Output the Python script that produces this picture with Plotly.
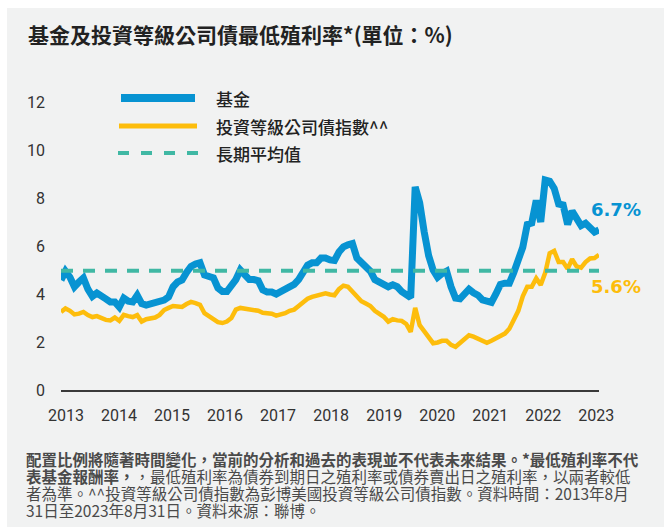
import plotly.graph_objects as go
import numpy as np

# ---------------- data ----------------
fund = [4.58, 4.95, 4.70, 4.30, 4.50, 4.67, 4.20, 3.90, 4.04, 3.95,
        3.80, 3.67, 3.67, 3.46, 3.83, 3.70, 3.67, 3.95, 3.60, 3.54,
        3.60, 3.67, 3.67, 3.75, 3.88, 4.30, 4.50, 4.58, 4.90, 5.15,
        5.25, 5.30, 4.79, 4.70, 4.67, 4.25, 4.10, 4.10, 4.30, 4.60,
        5.00, 4.79, 4.60, 4.60, 4.55, 4.17, 4.08, 4.08, 4.00, 4.10,
        4.20, 4.30, 4.40, 4.60, 4.88, 5.20, 5.30, 5.30, 5.50, 5.50,
        5.42, 5.40, 5.75, 5.96, 6.05, 6.10, 5.50, 5.30, 5.15, 4.95,
        4.60, 4.48, 4.35, 4.30, 4.38, 4.30, 4.10, 3.95, 3.85, 8.46,
        7.80, 6.60, 5.60, 5.00, 4.70, 4.85, 4.95, 4.30, 3.83, 3.80,
        4.00, 4.20, 4.05, 3.95, 3.75, 3.67, 3.65, 4.00, 4.40, 4.45,
        4.45, 4.90, 5.50, 5.95, 6.90, 6.96, 7.90, 7.00, 8.75, 8.70,
        8.40, 7.75, 7.71, 6.90, 7.45, 7.10, 6.85, 6.95, 6.75, 6.58,
        6.67]
ig_index = [3.25, 3.40, 3.30, 3.15, 3.18, 3.25, 3.12, 3.04, 3.08, 3.00,
            2.92, 2.90, 3.02, 2.88, 3.13, 3.08, 3.04, 3.12, 2.85, 2.95,
            3.00, 3.02, 3.13, 3.33, 3.42, 3.50, 3.48, 3.46, 3.58, 3.67,
            3.62, 3.55, 3.20, 3.08, 3.00, 2.83, 2.79, 2.85, 3.00, 3.35,
            3.42, 3.40, 3.38, 3.35, 3.30, 3.22, 3.20, 3.18, 3.10, 3.15,
            3.20, 3.30, 3.35, 3.50, 3.67, 3.80, 3.88, 3.92, 3.98, 4.03,
            3.98, 3.95, 4.20, 4.35, 4.30, 4.10, 3.90, 3.70, 3.60, 3.50,
            3.30, 3.20, 3.05, 2.85, 2.95, 2.90, 2.88, 2.75, 2.42, 3.42,
            2.70, 2.45, 2.22, 1.95, 1.98, 2.05, 2.05, 1.88, 1.80, 1.95,
            2.10, 2.28, 2.22, 2.15, 2.05, 1.97, 2.05, 2.15, 2.25, 2.35,
            2.55, 2.95, 3.30, 3.90, 4.30, 4.30, 4.65, 4.38, 4.88, 5.70,
            5.80, 5.33, 5.33, 5.05, 5.45, 5.15, 5.10, 5.33, 5.48, 5.50,
            5.63]
long_avg = 4.97
year_labels = ["2013", "2014", "2015", "2016", "2017", "2018",
               "2019", "2020", "2021", "2022", "2023"]
y_ticks = [0, 2, 4, 6, 8, 10, 12]
series_names = ["基金", "投資等級公司債指數^^", "長期平均值"]
end_labels = ["6.7%", "5.6%"]

title_text = "基金及投資等級公司債最低殖利率*(單位：%)"
foot_lines = [
    "<b>配置比例將隨著時間變化，當前的分析和過去的表現並不代表未來結果。*最低殖利率不代</b>",
    "<b>表基金報酬率，</b>，最低殖利率為債券到期日之殖利率或債券賣出日之殖利率，以兩者較低",
    "者為準。^^投資等級公司債指數為彭博美國投資等級公司債指數。資料時間：2013年8月",
    "31日至2023年8月31日。資料來源：聯博。",
]

# ---------------- styles ----------------
BLUE = "#0793d2"
YELLOW = "#fdbd0c"
TEAL = "#40b8a4"
BG = "#f1f2f2"
CJK = "Noto Sans CJK TC"
NUM = "Roboto"

W, H = 664, 527
L, R, T, B = 61, 65, 78, 137
pw, ph = W - L - R, H - T - B


def px(x):
    return (x - L) / pw


def py(y):
    return 1 - (y - T) / ph


months = list(range(len(fund)))
n = len(fund) - 1

fig = go.Figure()
fig.add_trace(go.Scatter(x=months, y=ig_index, mode="lines",
                         line=dict(color=YELLOW, width=4.5),
                         name=series_names[1], showlegend=False, hoverinfo="skip"))
fig.add_trace(go.Scatter(x=months, y=fund, mode="lines",
                         line=dict(color=BLUE, width=7),
                         name=series_names[0], showlegend=False, hoverinfo="skip"))
fig.add_trace(go.Scatter(x=[months[0], months[-1]], y=[long_avg, long_avg], mode="lines",
                         line=dict(color=TEAL, width=4, dash="12px,10px"),
                         name=series_names[2], showlegend=False, hoverinfo="skip"))

shapes = []
# grey panel
shapes.append(dict(type="rect", xref="paper", yref="paper",
                   x0=px(7), x1=px(W + 2), y0=py(8), y1=py(H + 2),
                   fillcolor=BG, line=dict(width=0), layer="below"))
# legend samples
leg_y = [98, 126, 153]
shapes.append(dict(type="line", xref="paper", yref="paper",
                   x0=px(121), x1=px(195), y0=py(leg_y[0]), y1=py(leg_y[0]),
                   line=dict(color=BLUE, width=8)))
shapes.append(dict(type="line", xref="paper", yref="paper",
                   x0=px(119), x1=px(197), y0=py(leg_y[1]), y1=py(leg_y[1]),
                   line=dict(color=YELLOW, width=5)))
shapes.append(dict(type="line", xref="paper", yref="paper",
                   x0=px(118), x1=px(199), y0=py(leg_y[2]), y1=py(leg_y[2]),
                   line=dict(color=TEAL, width=4, dash="11px,12px")))

annotations = []
for name, yy in zip(series_names, leg_y):
    annotations.append(dict(text=name, xref="paper", yref="paper",
                            x=px(214), y=py(yy), xanchor="left", yanchor="middle",
                            showarrow=False,
                            font=dict(family=CJK, size=17, color="#222", weight=500)))

# end labels
annotations.append(dict(text=end_labels[0], x=months[-1], y=fund[-1],
                        xanchor="left", yanchor="middle", xshift=-10, yshift=20,
                        showarrow=False,
                        font=dict(family="DejaVu Sans", size=18, color=BLUE, weight="bold")))
annotations.append(dict(text=end_labels[1], x=months[-1], y=ig_index[-1],
                        xanchor="left", yanchor="middle", xshift=-10, yshift=-32,
                        showarrow=False,
                        font=dict(family="DejaVu Sans", size=18, color=YELLOW, weight="bold")))

# title
annotations.append(dict(text=title_text, xref="paper", yref="paper",
                        x=px(26), y=py(34), xanchor="left", yanchor="middle",
                        showarrow=False,
                        font=dict(family=CJK, size=21, color="#222", weight="bold")))

# footnote
foot_y = [459, 476, 493, 510]
for line, yy in zip(foot_lines, foot_y):
    annotations.append(dict(text=line, xref="paper", yref="paper",
                            x=px(24), y=py(yy), xanchor="left", yanchor="middle",
                            showarrow=False,
                            font=dict(family=CJK, size=15.5, color="#4a4a4a")))

tickpos = list(np.linspace(1.1, 119.4, len(year_labels)))

fig.update_layout(
    width=W, height=H,
    margin=dict(l=L, r=R, t=T, b=B),
    paper_bgcolor="white",
    plot_bgcolor="rgba(0,0,0,0)",
    showlegend=False,
    shapes=shapes,
    annotations=annotations,
    xaxis=dict(range=[0, n], tickvals=tickpos, ticktext=year_labels,
               showgrid=False, zeroline=False, showline=True,
               linecolor="#3a3a3a", linewidth=1.5, ticks="",
               tickfont=dict(family=NUM, size=16, color="#333"),
               ticklabelstandoff=10, fixedrange=True),
    yaxis=dict(range=[0, 13], tickvals=y_ticks,
               showgrid=False, zeroline=False, showline=False, ticks="",
               tickfont=dict(family=NUM, size=16, color="#333"),
               ticklabelstandoff=15, fixedrange=True),
)

fig.write_html("out.html",
               config={"displayModeBar": False, "staticPlot": True},
               post_script="document.body.style.margin='0';document.body.style.overflow='hidden';")
